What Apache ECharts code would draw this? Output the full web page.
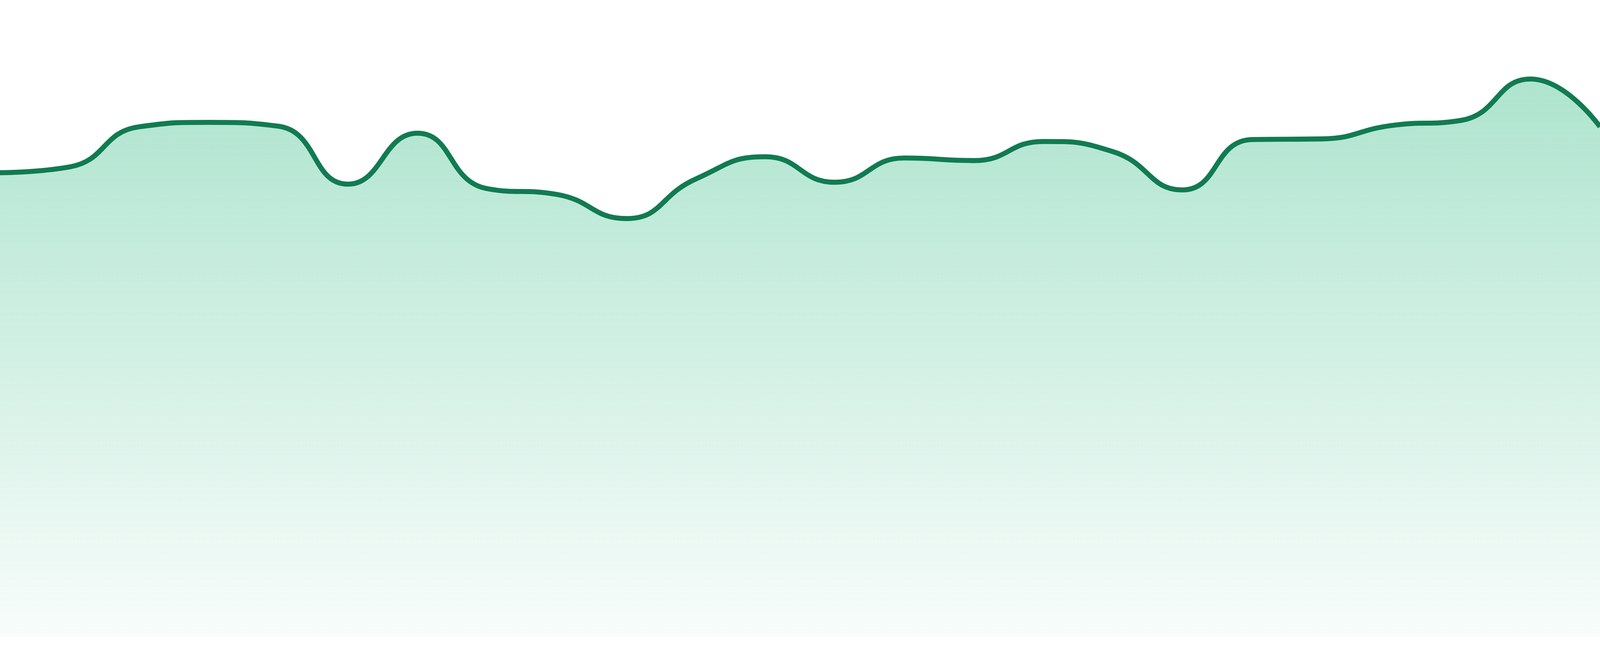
<!DOCTYPE html>
<html>
<head>
<meta charset="utf-8">
<script src="https://cdn.jsdelivr.net/npm/echarts@6/dist/echarts.min.js"></script>
<style>
html, body { margin: 0; padding: 0; background: #fff; overflow: hidden; }
#ch { width: 100vw; height: 100vh; }
</style>
</head>
<body>
<div id="ch"></div>

<script>
// 24 daily readings, axes are hidden in the original
var days = [
    '1', '2', '3', '4', '5', '6', '7', '8', '9', '10', '11', '12',
    '13', '14', '15', '16', '17', '18', '19', '20', '21', '22', '23', '24'
]
var values = [
    72.9, 73.8, 80.1, 80.8, 80.2, 71.1, 79.1, 70.4, 69.5, 65.7, 71.9, 75.4,
    71.4, 75.2, 74.8, 77.8, 76.2, 70.2, 78.1, 78.2, 80.3, 81.1, 87.6, 80.1
]
var yMin = 0
var yMax = 100

var chartInst = echarts.init(document.getElementById('ch'))
var w = chartInst.getWidth()
var option = {
    animation: false,
    grid: { left: 0, right: 0, top: 0, bottom: '2.86%' },
    xAxis: {
        type: 'category',
        data: days,
        boundaryGap: false,
        show: false
    },
    yAxis: {
        type: 'value',
        min: yMin,
        max: yMax,
        show: false
    },
    series: [{
        type: 'line',
        data: values,
        smooth: true,
        symbol: 'none',
        lineStyle: { color: '#117b52', width: w / 320 },
        areaStyle: {
            opacity: 1,
            color: new echarts.graphic.LinearGradient(0, 0, 0, 1, [
                { offset: 0, color: 'rgba(30,180,120,0.36)' },
                { offset: 1, color: 'rgba(30,180,120,0.03)' }
            ])
        }
    }]
}
chartInst.setOption(option)
</script>
</body>
</html>
